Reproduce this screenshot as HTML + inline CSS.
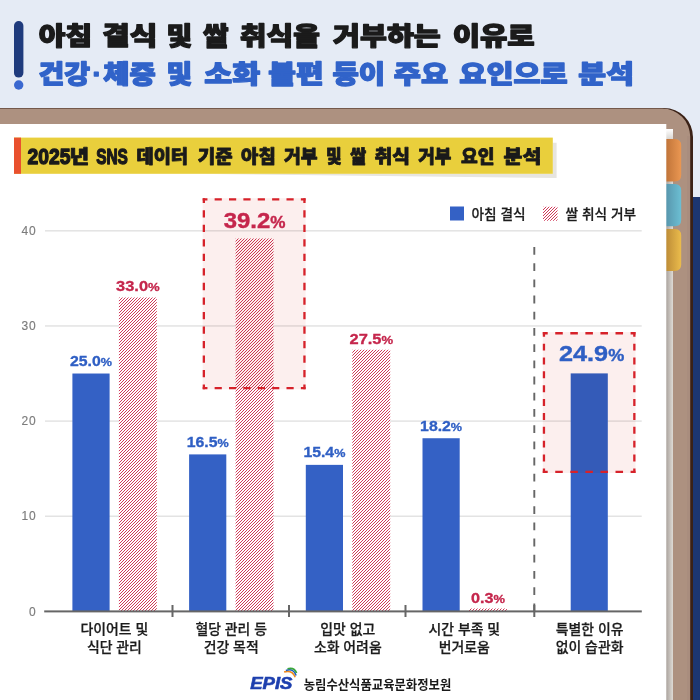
<!DOCTYPE html>
<html lang="ko">
<head>
<meta charset="utf-8">
<title>아침 결식 및 쌀 취식 거부 요인 분석</title>
<style>
html,body{margin:0;padding:0;}
body{width:700px;height:700px;overflow:hidden;background:#e5ebf5;font-family:"Liberation Sans","Noto Sans CJK KR",sans-serif;}
svg{display:block;position:absolute;left:0;top:0;}
text{font-family:"Liberation Sans","Noto Sans CJK KR",sans-serif;}
.t1,.t2,.lb{font-family:"Liberation Sans","Noto Sans CJK KR Black","Noto Sans CJK KR",sans-serif;}
.cat,.lg{font-family:"Liberation Sans","Noto Sans CJK KR Medium","Noto Sans CJK KR",sans-serif;}
.t1{font-weight:900;font-size:25.3px;fill:#1b1b1b;stroke:#1b1b1b;stroke-width:1.3px;stroke-linejoin:round;}
.t2{font-weight:900;font-size:25.3px;fill:#3163c9;stroke:#3163c9;stroke-width:1.3px;stroke-linejoin:round;}
.lb{font-weight:900;font-size:17.9px;fill:#1a1a1a;stroke:#1a1a1a;stroke-width:0.8px;stroke-linejoin:round;}
.lbn{font-weight:700;font-size:22.7px;fill:#1a1a1a;stroke:#1a1a1a;stroke-width:1.4px;stroke-linejoin:round;}
.yl{font-size:12px;fill:#7c7c7c;stroke:#7c7c7c;stroke-width:0.15px;text-anchor:end;letter-spacing:0.7px;}
.cat{font-size:13.9px;font-weight:500;fill:#1c1c1c;stroke:#1c1c1c;stroke-width:0.25px;text-anchor:middle;}
.lg{font-size:13.7px;font-weight:500;fill:#1c1c1c;stroke:#1c1c1c;stroke-width:0.25px;}
.vb{font-weight:700;font-size:13.8px;fill:#2f5fc4;stroke:#2f5fc4;stroke-width:0.3px;}
.vr{font-weight:700;font-size:13.8px;fill:#c5264c;stroke:#c5264c;stroke-width:0.3px;}
.pc{font-size:11px;}
.big{font-size:22.4px;stroke-width:0.4px;}
.bpc{font-size:16px;}
.org{font-weight:700;font-size:13px;fill:#1a1a1a;}
.epis{font-weight:700;font-style:italic;font-size:16px;fill:#1d3fae;stroke:#1d3fae;stroke-width:0.6px;}
</style>
</head>
<body>
<svg width="700" height="700" viewBox="0 0 700 700">
<defs>
<linearGradient id="gOr" x1="0" x2="1" y1="0" y2="0"><stop offset="0" stop-color="#c07439"/><stop offset="1" stop-color="#ea9752"/></linearGradient>
<linearGradient id="gBl" x1="0" x2="1" y1="0" y2="0"><stop offset="0" stop-color="#5896ad"/><stop offset="1" stop-color="#6cbfd3"/></linearGradient>
<linearGradient id="gYe" x1="0" x2="1" y1="0" y2="0"><stop offset="0" stop-color="#bd8c37"/><stop offset="1" stop-color="#ebbc4c"/></linearGradient>
<linearGradient id="gSh" x1="0" x2="1" y1="0" y2="0"><stop offset="0" stop-color="#a9a19b"/><stop offset="1" stop-color="#dedbd6"/></linearGradient>
<linearGradient id="gShTop" x1="0" x2="0" y1="0" y2="1"><stop offset="0" stop-color="#ffffff"/><stop offset="1" stop-color="#d9d6d2"/></linearGradient>
</defs>

<rect x="690" y="197" width="10" height="503" fill="#1c3671"/>
<rect x="-60" y="108" width="753" height="700" rx="29" ry="29" fill="#3a2116"/>
<rect x="-60" y="108.6" width="750.2" height="700" rx="28" ry="28" fill="#ad9180"/>
<rect x="687" y="136" width="3" height="564" fill="#a3867a" opacity="0.4"/>
<rect x="666" y="129" width="7" height="571" fill="url(#gSh)"/>
<rect x="666" y="129" width="7" height="10" fill="url(#gShTop)"/>
<path d="M666 139 H674.7 Q681.2 139 681.2 145.5 V174.9 Q681.2 181.4 674.7 181.4 H666 Z" fill="url(#gOr)"/>
<path d="M666 184 H674.7 Q681.2 184 681.2 190.5 V219.8 Q681.2 226.3 674.7 226.3 H666 Z" fill="url(#gBl)"/>
<path d="M666 229 H674.7 Q681.2 229 681.2 235.5 V264.5 Q681.2 271 674.7 271 H666 Z" fill="url(#gYe)"/>
<rect x="-5" y="124" width="671.3" height="580" fill="#ffffff"/>
<rect x="14" y="21" width="9.4" height="56.6" rx="4.7" fill="#1f3b7d"/>
<circle cx="18.7" cy="85" r="4.7" fill="#3a68d0"/>
<text class="t1" x="38.78" y="45.4" textLength="53.38" lengthAdjust="spacingAndGlyphs">아침</text>
<text class="t1" x="102.25" y="45.4" textLength="55.20" lengthAdjust="spacingAndGlyphs">결식</text>
<text class="t1" x="166.61" y="45.4" textLength="25.74" lengthAdjust="spacingAndGlyphs">및</text>
<text class="t1" x="203.07" y="45.4" textLength="25.53" lengthAdjust="spacingAndGlyphs">쌀</text>
<text class="t1" x="239.89" y="45.4" textLength="80.03" lengthAdjust="spacingAndGlyphs">취식을</text>
<text class="t1" x="333.06" y="45.4" textLength="107.67" lengthAdjust="spacingAndGlyphs">거부하는</text>
<text class="t1" x="452.66" y="45.4" textLength="82.08" lengthAdjust="spacingAndGlyphs">이유로</text>
<text class="t2" x="38.53" y="82.8" textLength="51.58" lengthAdjust="spacingAndGlyphs">건강</text>
<text class="t2" x="92.61" y="82.8" textLength="9.10" lengthAdjust="spacingAndGlyphs">·</text>
<text class="t2" x="103.36" y="82.8" textLength="52.44" lengthAdjust="spacingAndGlyphs">체중</text>
<text class="t2" x="166.61" y="82.8" textLength="25.74" lengthAdjust="spacingAndGlyphs">및</text>
<text class="t2" x="204.34" y="82.8" textLength="55.92" lengthAdjust="spacingAndGlyphs">소화</text>
<text class="t2" x="268.35" y="82.8" textLength="55.41" lengthAdjust="spacingAndGlyphs">불편</text>
<text class="t2" x="332.49" y="82.8" textLength="52.62" lengthAdjust="spacingAndGlyphs">등이</text>
<text class="t2" x="393.76" y="82.8" textLength="54.37" lengthAdjust="spacingAndGlyphs">주요</text>
<text class="t2" x="459.27" y="82.8" textLength="108.47" lengthAdjust="spacingAndGlyphs">요인으로</text>
<text class="t2" x="578.34" y="82.8" textLength="55.73" lengthAdjust="spacingAndGlyphs">분석</text>
<polygon points="190,173.8 552.8,173.8 552.8,142.7 556.6,142.7 556.6,178.1" fill="#e7e5df"/>
<rect x="14" y="137.6" width="538.8" height="36.2" fill="#e9cf3c"/>
<rect x="14" y="137.6" width="7" height="36.2" fill="#e9502e"/>
<text class="lb" x="69.44" y="162.8" textLength="19.65" lengthAdjust="spacingAndGlyphs">년</text>
<text class="lb" x="136.46" y="162.8" textLength="51.63" lengthAdjust="spacingAndGlyphs">데이터</text>
<text class="lb" x="197.83" y="162.8" textLength="34.84" lengthAdjust="spacingAndGlyphs">기준</text>
<text class="lb" x="241.08" y="162.8" textLength="34.71" lengthAdjust="spacingAndGlyphs">아침</text>
<text class="lb" x="283.97" y="162.8" textLength="33.68" lengthAdjust="spacingAndGlyphs">거부</text>
<text class="lb" x="326.04" y="162.8" textLength="15.66" lengthAdjust="spacingAndGlyphs">및</text>
<text class="lb" x="350.23" y="162.8" textLength="15.97" lengthAdjust="spacingAndGlyphs">쌀</text>
<text class="lb" x="374.63" y="162.8" textLength="35.45" lengthAdjust="spacingAndGlyphs">취식</text>
<text class="lb" x="418.22" y="162.8" textLength="33.17" lengthAdjust="spacingAndGlyphs">거부</text>
<text class="lb" x="461.10" y="162.8" textLength="33.52" lengthAdjust="spacingAndGlyphs">요인</text>
<text class="lb" x="503.54" y="162.8" textLength="37.71" lengthAdjust="spacingAndGlyphs">분석</text>
<text class="lbn" x="27.62" y="164.2" textLength="42.93" lengthAdjust="spacingAndGlyphs">2025</text>
<text class="lbn" x="96.14" y="164.2" textLength="31.73" lengthAdjust="spacingAndGlyphs">SNS</text>
<rect x="45" y="515.50" width="596.7" height="1.5" fill="#e3e3e3"/>
<rect x="45" y="420.35" width="596.7" height="1.5" fill="#e3e3e3"/>
<rect x="45" y="325.20" width="596.7" height="1.5" fill="#e3e3e3"/>
<rect x="45" y="230.05" width="596.7" height="1.5" fill="#e3e3e3"/>
<text class="yl" x="36.3" y="615.50">0</text>
<text class="yl" x="36.3" y="520.35">10</text>
<text class="yl" x="36.3" y="425.20">20</text>
<text class="yl" x="36.3" y="330.05">30</text>
<text class="yl" x="36.3" y="234.90">40</text>
<line x1="534.3" y1="247" x2="534.3" y2="611" stroke="#666666" stroke-width="1.9" stroke-dasharray="7.8 8.4"/>
<rect x="72.40" y="373.52" width="37.2" height="237.88" fill="#3461c5"/>
<rect x="189.10" y="454.40" width="37.2" height="157.00" fill="#3461c5"/>
<rect x="305.80" y="464.87" width="37.2" height="146.53" fill="#3461c5"/>
<rect x="422.50" y="438.23" width="37.2" height="173.17" fill="#3461c5"/>
<rect x="570.7" y="373.4" width="37.1" height="238.00" fill="#3461c5"/>
<clipPath id="hc"><rect x="118.90" y="297.40" width="37.9" height="314.00"/><rect x="235.60" y="238.41" width="37.9" height="372.99"/><rect x="352.30" y="349.74" width="37.9" height="261.66"/><rect x="469.00" y="608.55" width="37.9" height="2.85"/><rect x="543.00" y="206.70" width="14.5" height="14.00"/></clipPath>
<rect x="118.90" y="297.40" width="37.9" height="314.00" fill="#ffffff"/>
<rect x="235.60" y="238.41" width="37.9" height="372.99" fill="#ffffff"/>
<rect x="352.30" y="349.74" width="37.9" height="261.66" fill="#ffffff"/>
<rect x="469.00" y="608.55" width="37.9" height="2.85" fill="#ffffff"/>
<rect x="543.00" y="206.70" width="14.5" height="14.00" fill="#ffffff"/>
<path clip-path="url(#hc)" d="M-196.00 613L213.00 204M-193.00 613L216.00 204M-190.00 613L219.00 204M-187.00 613L222.00 204M-184.00 613L225.00 204M-181.00 613L228.00 204M-178.00 613L231.00 204M-175.00 613L234.00 204M-172.00 613L237.00 204M-169.00 613L240.00 204M-166.00 613L243.00 204M-163.00 613L246.00 204M-160.00 613L249.00 204M-157.00 613L252.00 204M-154.00 613L255.00 204M-151.00 613L258.00 204M-148.00 613L261.00 204M-145.00 613L264.00 204M-142.00 613L267.00 204M-139.00 613L270.00 204M-136.00 613L273.00 204M-133.00 613L276.00 204M-130.00 613L279.00 204M-127.00 613L282.00 204M-124.00 613L285.00 204M-121.00 613L288.00 204M-118.00 613L291.00 204M-115.00 613L294.00 204M-112.00 613L297.00 204M-109.00 613L300.00 204M-106.00 613L303.00 204M-103.00 613L306.00 204M-100.00 613L309.00 204M-97.00 613L312.00 204M-94.00 613L315.00 204M-91.00 613L318.00 204M-88.00 613L321.00 204M-85.00 613L324.00 204M-82.00 613L327.00 204M-79.00 613L330.00 204M-76.00 613L333.00 204M-73.00 613L336.00 204M-70.00 613L339.00 204M-67.00 613L342.00 204M-64.00 613L345.00 204M-61.00 613L348.00 204M-58.00 613L351.00 204M-55.00 613L354.00 204M-52.00 613L357.00 204M-49.00 613L360.00 204M-46.00 613L363.00 204M-43.00 613L366.00 204M-40.00 613L369.00 204M-37.00 613L372.00 204M-34.00 613L375.00 204M-31.00 613L378.00 204M-28.00 613L381.00 204M-25.00 613L384.00 204M-22.00 613L387.00 204M-19.00 613L390.00 204M-16.00 613L393.00 204M-13.00 613L396.00 204M-10.00 613L399.00 204M-7.00 613L402.00 204M-4.00 613L405.00 204M-1.00 613L408.00 204M2.00 613L411.00 204M5.00 613L414.00 204M8.00 613L417.00 204M11.00 613L420.00 204M14.00 613L423.00 204M17.00 613L426.00 204M20.00 613L429.00 204M23.00 613L432.00 204M26.00 613L435.00 204M29.00 613L438.00 204M32.00 613L441.00 204M35.00 613L444.00 204M38.00 613L447.00 204M41.00 613L450.00 204M44.00 613L453.00 204M47.00 613L456.00 204M50.00 613L459.00 204M53.00 613L462.00 204M56.00 613L465.00 204M59.00 613L468.00 204M62.00 613L471.00 204M65.00 613L474.00 204M68.00 613L477.00 204M71.00 613L480.00 204M74.00 613L483.00 204M77.00 613L486.00 204M80.00 613L489.00 204M83.00 613L492.00 204M86.00 613L495.00 204M89.00 613L498.00 204M92.00 613L501.00 204M95.00 613L504.00 204M98.00 613L507.00 204M101.00 613L510.00 204M104.00 613L513.00 204M107.00 613L516.00 204M110.00 613L519.00 204M113.00 613L522.00 204M116.00 613L525.00 204M119.00 613L528.00 204M122.00 613L531.00 204M125.00 613L534.00 204M128.00 613L537.00 204M131.00 613L540.00 204M134.00 613L543.00 204M137.00 613L546.00 204M140.00 613L549.00 204M143.00 613L552.00 204M146.00 613L555.00 204M149.00 613L558.00 204M152.00 613L561.00 204M155.00 613L564.00 204M158.00 613L567.00 204M161.00 613L570.00 204M164.00 613L573.00 204M167.00 613L576.00 204M170.00 613L579.00 204M173.00 613L582.00 204M176.00 613L585.00 204M179.00 613L588.00 204M182.00 613L591.00 204M185.00 613L594.00 204M188.00 613L597.00 204M191.00 613L600.00 204M194.00 613L603.00 204M197.00 613L606.00 204M200.00 613L609.00 204M203.00 613L612.00 204M206.00 613L615.00 204M209.00 613L618.00 204M212.00 613L621.00 204M215.00 613L624.00 204M218.00 613L627.00 204M221.00 613L630.00 204M224.00 613L633.00 204M227.00 613L636.00 204M230.00 613L639.00 204M233.00 613L642.00 204M236.00 613L645.00 204M239.00 613L648.00 204M242.00 613L651.00 204M245.00 613L654.00 204M248.00 613L657.00 204M251.00 613L660.00 204M254.00 613L663.00 204M257.00 613L666.00 204M260.00 613L669.00 204M263.00 613L672.00 204M266.00 613L675.00 204M269.00 613L678.00 204M272.00 613L681.00 204M275.00 613L684.00 204M278.00 613L687.00 204M281.00 613L690.00 204M284.00 613L693.00 204M287.00 613L696.00 204M290.00 613L699.00 204M293.00 613L702.00 204M296.00 613L705.00 204M299.00 613L708.00 204M302.00 613L711.00 204M305.00 613L714.00 204M308.00 613L717.00 204M311.00 613L720.00 204M314.00 613L723.00 204M317.00 613L726.00 204M320.00 613L729.00 204M323.00 613L732.00 204M326.00 613L735.00 204M329.00 613L738.00 204M332.00 613L741.00 204M335.00 613L744.00 204M338.00 613L747.00 204M341.00 613L750.00 204M344.00 613L753.00 204M347.00 613L756.00 204M350.00 613L759.00 204M353.00 613L762.00 204M356.00 613L765.00 204M359.00 613L768.00 204M362.00 613L771.00 204M365.00 613L774.00 204M368.00 613L777.00 204M371.00 613L780.00 204M374.00 613L783.00 204M377.00 613L786.00 204M380.00 613L789.00 204M383.00 613L792.00 204M386.00 613L795.00 204M389.00 613L798.00 204M464.00 613L873.00 204M467.00 613L876.00 204M470.00 613L879.00 204M473.00 613L882.00 204M476.00 613L885.00 204M479.00 613L888.00 204M482.00 613L891.00 204M485.00 613L894.00 204M488.00 613L897.00 204M491.00 613L900.00 204M494.00 613L903.00 204M497.00 613L906.00 204M500.00 613L909.00 204M503.00 613L912.00 204M506.00 613L915.00 204" stroke="#cc274a" stroke-width="0.92" fill="none"/>
<rect x="202.7" y="198.2" width="102.90" height="191.10" fill="#fcefee" style="mix-blend-mode:multiply"/>
<line x1="202.70" y1="199.35" x2="305.60" y2="199.35" stroke="#d6222a" stroke-width="2.3" stroke-dasharray="7.186 7.186" stroke-dashoffset="2.443"/>
<line x1="202.70" y1="388.15" x2="305.60" y2="388.15" stroke="#d6222a" stroke-width="2.3" stroke-dasharray="7.186 7.186" stroke-dashoffset="2.443"/>
<line x1="203.85" y1="198.20" x2="203.85" y2="389.30" stroke="#d6222a" stroke-width="2.3" stroke-dasharray="7.262 7.262" stroke-dashoffset="2.481"/>
<line x1="304.45" y1="198.20" x2="304.45" y2="389.30" stroke="#d6222a" stroke-width="2.3" stroke-dasharray="7.262 7.262" stroke-dashoffset="2.481"/>
<rect x="542.8" y="332.1" width="92.70" height="140.90" fill="#fcefee" style="mix-blend-mode:multiply"/>
<line x1="542.80" y1="333.25" x2="635.50" y2="333.25" stroke="#d6222a" stroke-width="2.3" stroke-dasharray="7.533 7.533" stroke-dashoffset="2.617"/>
<line x1="542.80" y1="471.85" x2="635.50" y2="471.85" stroke="#d6222a" stroke-width="2.3" stroke-dasharray="7.533 7.533" stroke-dashoffset="2.617"/>
<line x1="543.95" y1="332.10" x2="543.95" y2="473.00" stroke="#d6222a" stroke-width="2.3" stroke-dasharray="6.930 6.930" stroke-dashoffset="2.315"/>
<line x1="634.35" y1="332.10" x2="634.35" y2="473.00" stroke="#d6222a" stroke-width="2.3" stroke-dasharray="6.930 6.930" stroke-dashoffset="2.315"/>
<rect x="44.2" y="610.40" width="597.6" height="2" fill="#666666"/>
<rect x="171.50" y="605" width="2" height="12" fill="#666666"/>
<rect x="288.00" y="605" width="2" height="12" fill="#666666"/>
<rect x="404.50" y="605" width="2" height="12" fill="#666666"/>
<rect x="533.30" y="605" width="2" height="12" fill="#666666"/>
<text class="vb" x="70.00" y="366.12" textLength="42" lengthAdjust="spacingAndGlyphs">25.0<tspan class="pc">%</tspan></text>
<text class="vr" x="116.10" y="291.20" textLength="43.6" lengthAdjust="spacingAndGlyphs">33.0<tspan class="pc">%</tspan></text>
<text class="vb" x="186.70" y="447.00" textLength="42" lengthAdjust="spacingAndGlyphs">16.5<tspan class="pc">%</tspan></text>
<text class="vr big" x="223.70" y="227.60" textLength="61.8" lengthAdjust="spacingAndGlyphs">39.2<tspan class="bpc">%</tspan></text>
<text class="vb" x="303.40" y="457.47" textLength="42" lengthAdjust="spacingAndGlyphs">15.4<tspan class="pc">%</tspan></text>
<text class="vr" x="349.50" y="343.54" textLength="43.6" lengthAdjust="spacingAndGlyphs">27.5<tspan class="pc">%</tspan></text>
<text class="vb" x="420.10" y="430.83" textLength="42" lengthAdjust="spacingAndGlyphs">18.2<tspan class="pc">%</tspan></text>
<text class="vr" x="471.00" y="603.35" textLength="34" lengthAdjust="spacingAndGlyphs">0.3<tspan class="pc">%</tspan></text>
<text class="vb big" x="559.00" y="361.10" textLength="65.2" lengthAdjust="spacingAndGlyphs">24.9<tspan class="bpc">%</tspan></text>
<rect x="450" y="206.5" width="14" height="14" fill="#3461c5"/>
<text class="lg" x="471.4" y="218.5">아침 결식</text>
<text class="lg" x="565.6" y="218.5">쌀 취식 거부</text>
<text class="cat" x="114.4" y="633.6">다이어트 및</text>
<text class="cat" x="114.4" y="652.1">식단 관리</text>
<text class="cat" x="231.2" y="633.6">혈당 관리 등</text>
<text class="cat" x="231.2" y="652.1">건강 목적</text>
<text class="cat" x="347.8" y="633.6">입맛 없고</text>
<text class="cat" x="347.8" y="652.1">소화 어려움</text>
<text class="cat" x="464.3" y="633.6">시간 부족 및</text>
<text class="cat" x="464.3" y="652.1">번거로움</text>
<text class="cat" x="589.6" y="633.6">특별한 이유</text>
<text class="cat" x="589.6" y="652.1">없이 습관화</text>
<text class="epis" x="250.2" y="689" textLength="42.2" lengthAdjust="spacingAndGlyphs">EPIS</text>
<path d="M284.1 672 Q292.06 669.5 295.2 677.2" fill="none" stroke="#f08a1e" stroke-width="1.5"/>
<path d="M285.9 670.5 Q293.56 667.9 296.1 675.4" fill="none" stroke="#1f5fc0" stroke-width="1.5"/>
<path d="M287.5 668.7 Q294.41 666.9 296.6 673" fill="none" stroke="#3aa63a" stroke-width="1.7"/>
<text class="org" x="303.7" y="689" textLength="147.6" lengthAdjust="spacingAndGlyphs">농림수산식품교육문화정보원</text>
</svg>
</body>
</html>
